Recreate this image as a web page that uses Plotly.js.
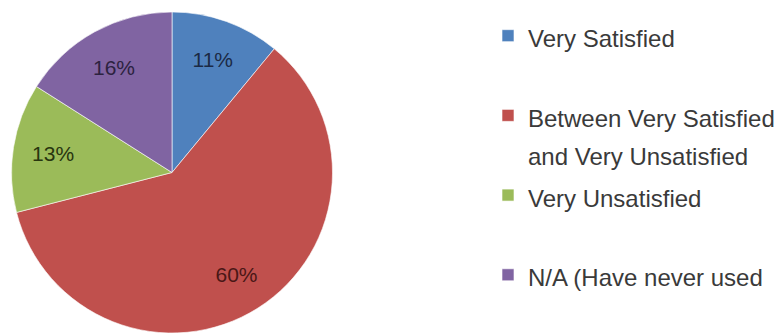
<!DOCTYPE html>
<html>
<head>
<meta charset="utf-8">
<script src="https://cdn.plot.ly/plotly-3.0.1.min.js"></script>
<style>html,body{margin:0;padding:0;background:#fff;}#chart{width:783px;height:333px;}</style>
</head>
<body>
<div id="chart"></div>
<script>
// Data
const categories = ["Very Satisfied", "Between Very Satisfied<br>and Very Unsatisfied", "Very Unsatisfied", "N/A (Have never used"];
const values = [11, 60, 13, 16];
const sliceColors = ["#4F81BD", "#C0504D", "#9BBB59", "#8064A2"];
const labelColors = ["#1B2A45", "#4A1716", "#28350F", "#2C2240"];

// Legend labels: smaller glyphs inside a taller line so entries are spaced like the original
const legendLabels = categories.map(c => {
  const lines = c.split("<br>").map(l => '<span style="font-size:24px">' + l + '</span>');
  while (lines.length < 2) lines.push(" ");
  return lines.join("<br>");
});

const pieDomain = {x: [11/783, 333/783], y: [0, 0.964]};

// Coloured slices (no text)
const slices = {
  type: "pie",
  labels: legendLabels,
  values: values,
  sort: false,
  direction: "clockwise",
  rotation: 0,
  automargin: false,
  marker: {colors: sliceColors, line: {color: "rgba(255,255,255,0.6)", width: 1}},
  textinfo: "none",
  hoverinfo: "none",
  domain: pieDomain
};

// Same data again, transparent, with a hole so the percentages sit in the outer ring
const percentLabels = {
  type: "pie",
  labels: legendLabels,
  values: values,
  sort: false,
  direction: "clockwise",
  rotation: 0,
  hole: 0.5,
  automargin: false,
  showlegend: false,
  marker: {colors: ["rgba(0,0,0,0)", "rgba(0,0,0,0)", "rgba(0,0,0,0)", "rgba(0,0,0,0)"], line: {width: 0}},
  textinfo: "percent",
  textposition: "inside",
  insidetextorientation: "horizontal",
  insidetextfont: {family: "Liberation Sans, Arial, sans-serif", size: 21, color: labelColors},
  hoverinfo: "none",
  domain: pieDomain
};

const layout = {
  width: 783,
  height: 333,
  margin: {l: 0, r: 0, t: 0, b: 0, autoexpand: false},
  paper_bgcolor: "#ffffff",
  showlegend: true,
  legend: {
    xref: "container", yref: "container",
    x: 488/783, xanchor: "left",
    y: 1 - 10/333, yanchor: "top",
    valign: "top",
    maxheight: 600,
    font: {family: "Liberation Sans, Arial, sans-serif", size: 29.5, color: "#3A3A3A"},
    bgcolor: "rgba(0,0,0,0)",
    borderwidth: 0
  }
};

Plotly.newPlot("chart", [slices, percentLabels], layout, {displayModeBar: false, staticPlot: true});
</script>
</body>
</html>
